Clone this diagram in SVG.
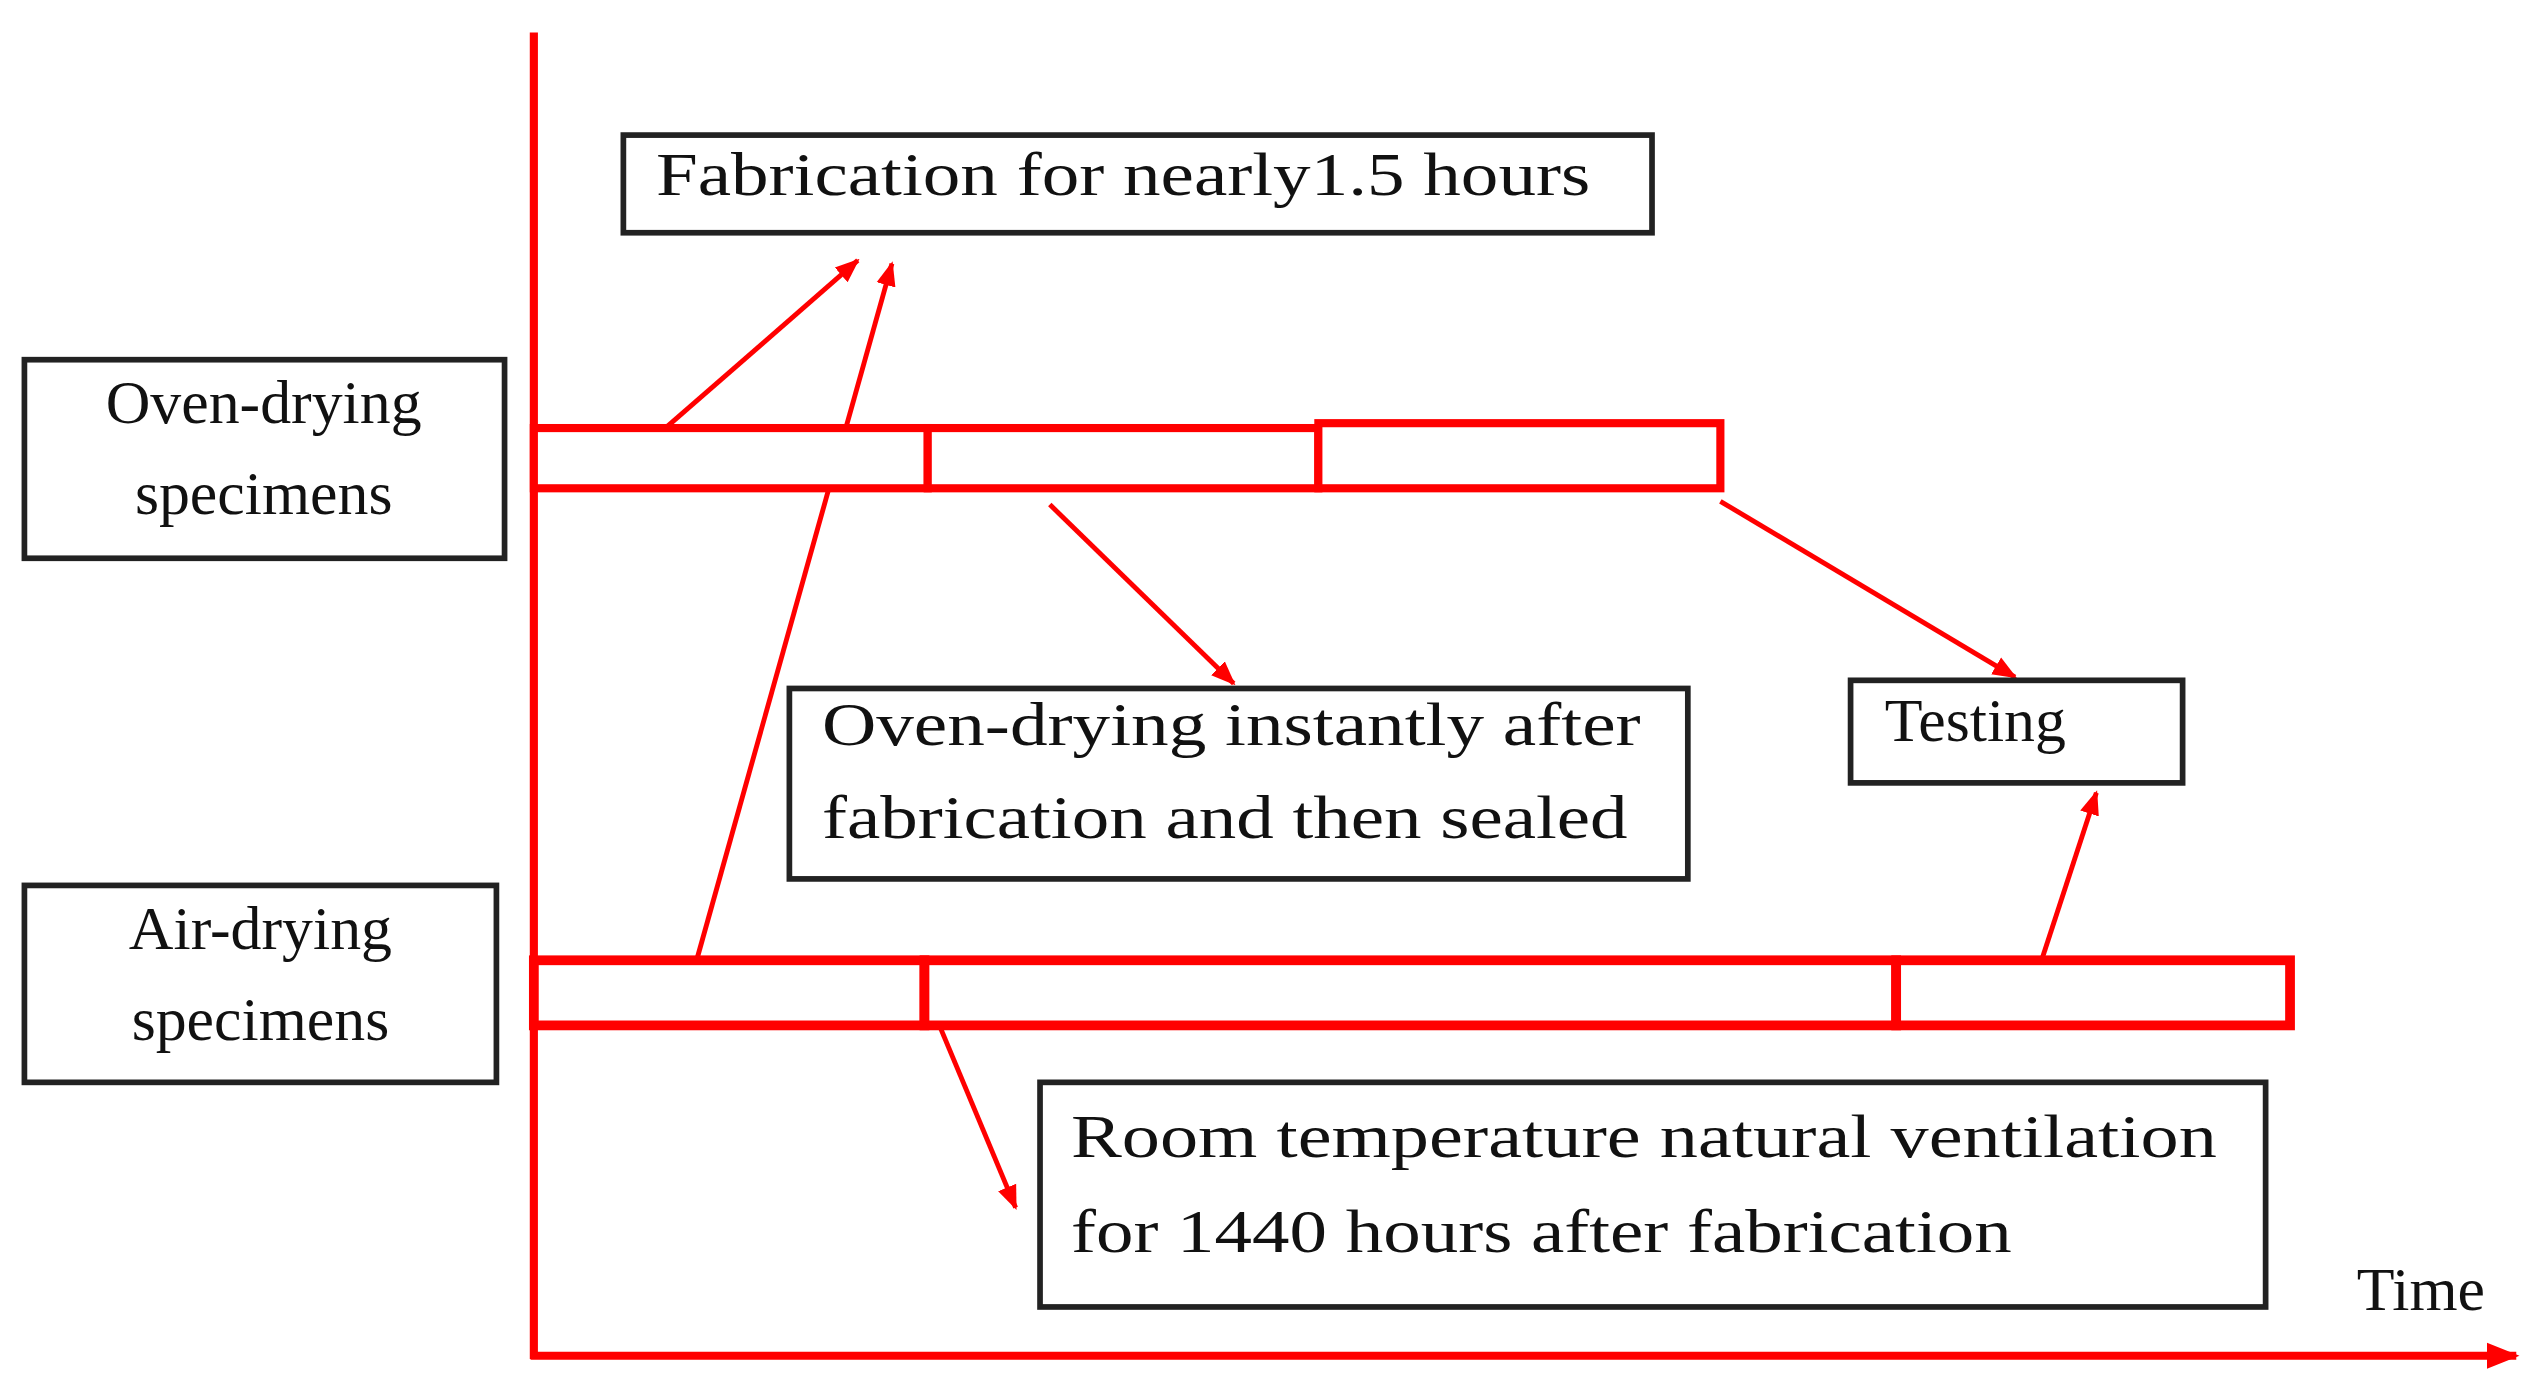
<svg xmlns="http://www.w3.org/2000/svg" width="2539" height="1387" viewBox="0 0 2539 1387">
<defs>
<style>
.box{fill:#fff;stroke:#222;stroke-width:3.5}
.t{font-family:"Liberation Serif",serif;font-size:38px;fill:#111}
.bar{fill:#fff;stroke:#f00;stroke-width:5}
.ln{stroke:#f00;stroke-width:3;fill:none}
</style>
<marker id="ah" viewBox="0 0 10 10" refX="9" refY="5" markerWidth="5" markerHeight="5" orient="auto"><path d="M0,1 L10,5 L0,9 z" fill="#f00"/></marker>
<marker id="ah2" viewBox="0 0 10 10" refX="9" refY="5" markerWidth="4" markerHeight="4" orient="auto"><path d="M0,1 L10,5 L0,9 z" fill="#f00"/></marker>
</defs>
<rect width="2539" height="1387" fill="#fff"/>
<g transform="scale(1.6276)">
<g id="connectors">
<line class="ln" x1="328" y1="20" x2="328" y2="835" style="stroke-width:5"/>
<line class="ln" x1="326" y1="833" x2="1546" y2="833" style="stroke-width:5" marker-end="url(#ah2)"/>
<line class="ln" x1="410" y1="262" x2="527" y2="160" marker-end="url(#ah)"/>
<line class="ln" x1="428" y1="590" x2="548" y2="162" marker-end="url(#ah)"/>
<line class="ln" x1="645" y1="310" x2="758" y2="420" marker-end="url(#ah)"/>
<line class="ln" x1="1057" y1="308" x2="1238" y2="416" marker-end="url(#ah)"/>
<line class="ln" x1="1255" y1="588" x2="1288" y2="487" marker-end="url(#ah)"/>
<line class="ln" x1="578" y1="632" x2="624" y2="742" marker-end="url(#ah)"/>
</g>
<g id="oven-bar">
<rect class="bar" x="328" y="263" width="242" height="37"/>
<rect class="bar" x="570" y="263" width="240" height="37"/>
<rect class="bar" x="810" y="260" width="247" height="40"/>
</g>
<g id="air-bar">
<rect class="bar" x="328" y="590" width="240" height="40" style="stroke-width:6"/>
<rect class="bar" x="568" y="590" width="597" height="40" style="stroke-width:6"/>
<rect class="bar" x="1165" y="590" width="242" height="40" style="stroke-width:6"/>
</g>
<g id="oven-label"><rect class="box" x="15" y="221" width="295" height="122"/>
<text class="t" x="162" y="260" text-anchor="middle">Oven-drying</text>
<text class="t" x="162" y="316" text-anchor="middle">specimens</text></g>
<g id="air-label"><rect class="box" x="15" y="544" width="290" height="121"/>
<text class="t" x="160" y="583" text-anchor="middle">Air-drying</text>
<text class="t" x="160" y="639" text-anchor="middle">specimens</text></g>
<g id="fabrication"><rect class="box" x="383" y="83" width="632" height="60"/>
<text class="t" x="403" y="120" textLength="574" lengthAdjust="spacingAndGlyphs">Fabrication for nearly1.5 hours</text></g>
<g id="oven-instantly"><rect class="box" x="485" y="423" width="552" height="117"/>
<text class="t" x="505" y="458" textLength="503" lengthAdjust="spacingAndGlyphs">Oven-drying instantly after</text>
<text class="t" x="505" y="515" textLength="495" lengthAdjust="spacingAndGlyphs">fabrication and then sealed</text></g>
<g id="testing"><rect class="box" x="1137" y="418" width="204" height="63"/>
<text class="t" x="1158" y="455">Testing</text></g>
<g id="room-temp"><rect class="box" x="639" y="665" width="753" height="138"/>
<text class="t" x="658" y="711" textLength="704" lengthAdjust="spacingAndGlyphs">Room temperature natural ventilation</text>
<text class="t" x="658" y="769" textLength="578" lengthAdjust="spacingAndGlyphs">for 1440 hours after fabrication</text></g>
<text class="t" x="1448" y="805">Time</text>
</g>
</svg>
